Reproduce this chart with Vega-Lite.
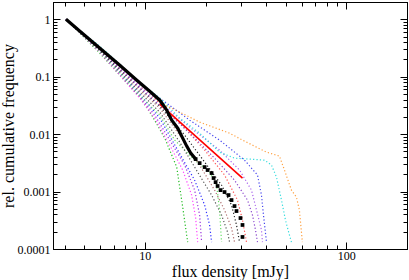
{
  "$schema": "https://vega.github.io/schema/vega-lite/v6.json",
  "width": 354,
  "height": 247,
  "autosize": "none",
  "padding": {"left": 53, "top": 2, "right": 2, "bottom": 31},
  "background": "white",
  "config": {
    "view": {"stroke": "black", "strokeWidth": 1},
    "font": "Liberation Serif",
    "axis": {
      "grid": false,
      "zindex": 1,
      "domainColor": "black",
      "domainWidth": 1,
      "tickColor": "black",
      "tickWidth": 1,
      "labelColor": "black",
      "titleColor": "black",
      "labelFont": "Liberation Serif",
      "titleFont": "Liberation Serif",
      "labelFontSize": 12,
      "titleFontSize": 16,
      "titleFontWeight": "normal"
    }
  },
  "datasets": {
    "obs": [
      {"flux": 4.06, "freq": 1},
      {"flux": 4.76, "freq": 0.618},
      {"flux": 5.98, "freq": 0.313},
      {"flux": 7.51, "freq": 0.1585},
      {"flux": 9.12, "freq": 0.0869},
      {"flux": 10.57, "freq": 0.0559},
      {"flux": 11.86, "freq": 0.039},
      {"flux": 12.26, "freq": 0.0332},
      {"flux": 12.84, "freq": 0.0261},
      {"flux": 13.59, "freq": 0.0175},
      {"flux": 14.55, "freq": 0.0127},
      {"flux": 15.41, "freq": 0.00852},
      {"flux": 16.13, "freq": 0.00619},
      {"flux": 16.88, "freq": 0.00467},
      {"flux": 17.87, "freq": 0.00367},
      {"flux": 18.7, "freq": 0.00313},
      {"flux": 19.8, "freq": 0.00267},
      {"flux": 20.48, "freq": 0.00237},
      {"flux": 21.44, "freq": 0.0021},
      {"flux": 21.93, "freq": 0.00172},
      {"flux": 22.44, "freq": 0.00146},
      {"flux": 22.96, "freq": 0.00125},
      {"flux": 23.75, "freq": 0.00106},
      {"flux": 24.86, "freq": 0.00098},
      {"flux": 26.02, "freq": 0.000869},
      {"flux": 26.92, "freq": 0.000711},
      {"flux": 27.86, "freq": 0.000559},
      {"flux": 28.5, "freq": 0.000458},
      {"flux": 29.83, "freq": 0.000346},
      {"flux": 30.52, "freq": 0.000262},
      {"flux": 30.52, "freq": 0.000162}
    ],
    "fit": [
      {"flux": 11.86, "freq": 0.0332},
      {"flux": 30.52, "freq": 0.00172}
    ],
    "sims": [
      {"run": "s01", "flux": 4.06, "freq": 1}, {"run": "s01", "flux": 5.98, "freq": 0.256}, {"run": "s01", "flux": 9.44, "freq": 0.044}, {"run": "s01", "flux": 10.82, "freq": 0.0214}, {"run": "s01", "flux": 12.55, "freq": 0.00852}, {"run": "s01", "flux": 14.39, "freq": 0.00267}, {"run": "s01", "flux": 15.41, "freq": 0.000537}, {"run": "s01", "flux": 16.31, "freq": 0.000132},
      {"run": "s02", "flux": 4.06, "freq": 1}, {"run": "s02", "flux": 5.98, "freq": 0.267}, {"run": "s02", "flux": 9.44, "freq": 0.0423}, {"run": "s02", "flux": 11.2, "freq": 0.019}, {"run": "s02", "flux": 13.29, "freq": 0.00644}, {"run": "s02", "flux": 15.41, "freq": 0.00237}, {"run": "s02", "flux": 17.07, "freq": 0.000869}, {"run": "s02", "flux": 17.87, "freq": 0.000346}, {"run": "s02", "flux": 18.28, "freq": 0.000132},
      {"run": "s03", "flux": 4.06, "freq": 1}, {"run": "s03", "flux": 5.98, "freq": 0.278}, {"run": "s03", "flux": 9.44, "freq": 0.0458}, {"run": "s03", "flux": 11.2, "freq": 0.0214}, {"run": "s03", "flux": 13.29, "freq": 0.00787}, {"run": "s03", "flux": 15.76, "freq": 0.00289}, {"run": "s03", "flux": 17.66, "freq": 0.00106}, {"run": "s03", "flux": 18.7, "freq": 0.00039}, {"run": "s03", "flux": 19.13, "freq": 0.000132},
      {"run": "s04", "flux": 4.06, "freq": 1}, {"run": "s04", "flux": 5.98, "freq": 0.289}, {"run": "s04", "flux": 9.44, "freq": 0.0496}, {"run": "s04", "flux": 11.86, "freq": 0.019}, {"run": "s04", "flux": 14.55, "freq": 0.00527}, {"run": "s04", "flux": 17.66, "freq": 0.00158}, {"run": "s04", "flux": 19.8, "freq": 0.000582}, {"run": "s04", "flux": 20.95, "freq": 0.000262}, {"run": "s04", "flux": 21.44, "freq": 0.000132},
      {"run": "s05", "flux": 4.06, "freq": 1}, {"run": "s05", "flux": 5.98, "freq": 0.278}, {"run": "s05", "flux": 9.44, "freq": 0.0477}, {"run": "s05", "flux": 11.86, "freq": 0.0214}, {"run": "s05", "flux": 14.06, "freq": 0.00787}, {"run": "s05", "flux": 17.66, "freq": 0.00353}, {"run": "s05", "flux": 20.95, "freq": 0.00218}, {"run": "s05", "flux": 22.7, "freq": 0.0013}, {"run": "s05", "flux": 23.49, "freq": 0.000477}, {"run": "s05", "flux": 24.02, "freq": 0.000132},
      {"run": "s06", "flux": 4.06, "freq": 1}, {"run": "s06", "flux": 5.98, "freq": 0.289}, {"run": "s06", "flux": 9.44, "freq": 0.0537}, {"run": "s06", "flux": 11.86, "freq": 0.0241}, {"run": "s06", "flux": 14.89, "freq": 0.00726}, {"run": "s06", "flux": 18.28, "freq": 0.00218}, {"run": "s06", "flux": 21.44, "freq": 0.000869}, {"run": "s06", "flux": 24.02, "freq": 0.00039}, {"run": "s06", "flux": 25.72, "freq": 0.000198}, {"run": "s06", "flux": 26.32, "freq": 0.000132},
      {"run": "s07", "flux": 4.06, "freq": 1}, {"run": "s07", "flux": 5.98, "freq": 0.301}, {"run": "s07", "flux": 9.44, "freq": 0.0582}, {"run": "s07", "flux": 11.86, "freq": 0.0283}, {"run": "s07", "flux": 14.89, "freq": 0.00961}, {"run": "s07", "flux": 18.7, "freq": 0.00289}, {"run": "s07", "flux": 22.19, "freq": 0.00106}, {"run": "s07", "flux": 24.86, "freq": 0.000477}, {"run": "s07", "flux": 26.92, "freq": 0.000232}, {"run": "s07", "flux": 27.86, "freq": 0.000132},
      {"run": "s08", "flux": 4.06, "freq": 1}, {"run": "s08", "flux": 5.98, "freq": 0.289}, {"run": "s08", "flux": 9.44, "freq": 0.0631}, {"run": "s08", "flux": 11.86, "freq": 0.0307}, {"run": "s08", "flux": 15.76, "freq": 0.00961}, {"run": "s08", "flux": 19.8, "freq": 0.00326}, {"run": "s08", "flux": 24.02, "freq": 0.0013}, {"run": "s08", "flux": 26.92, "freq": 0.000582}, {"run": "s08", "flux": 28.5, "freq": 0.000262}, {"run": "s08", "flux": 29.5, "freq": 0.000132},
      {"run": "s09", "flux": 4.06, "freq": 1}, {"run": "s09", "flux": 5.98, "freq": 0.301}, {"run": "s09", "flux": 9.44, "freq": 0.0684}, {"run": "s09", "flux": 11.86, "freq": 0.0346}, {"run": "s09", "flux": 15.76, "freq": 0.0127}, {"run": "s09", "flux": 19.8, "freq": 0.00527}, {"run": "s09", "flux": 24.86, "freq": 0.00194}, {"run": "s09", "flux": 28.83, "freq": 0.000711}, {"run": "s09", "flux": 30.52, "freq": 0.000319}, {"run": "s09", "flux": 31.95, "freq": 0.000132},
      {"run": "s10", "flux": 4.06, "freq": 1}, {"run": "s10", "flux": 5.98, "freq": 0.301}, {"run": "s10", "flux": 9.44, "freq": 0.0631}, {"run": "s10", "flux": 11.86, "freq": 0.0319}, {"run": "s10", "flux": 16.69, "freq": 0.0104}, {"run": "s10", "flux": 22.19, "freq": 0.00382}, {"run": "s10", "flux": 27.86, "freq": 0.00158}, {"run": "s10", "flux": 32.32, "freq": 0.000711}, {"run": "s10", "flux": 34.21, "freq": 0.00039}, {"run": "s10", "flux": 35.41, "freq": 0.000214}, {"run": "s10", "flux": 36.23, "freq": 0.000132},
      {"run": "s11", "flux": 4.06, "freq": 1}, {"run": "s11", "flux": 5.98, "freq": 0.313}, {"run": "s11", "flux": 9.44, "freq": 0.0684}, {"run": "s11", "flux": 11.86, "freq": 0.036}, {"run": "s11", "flux": 16.69, "freq": 0.0132}, {"run": "s11", "flux": 23.49, "freq": 0.00527}, {"run": "s11", "flux": 29.5, "freq": 0.00237}, {"run": "s11", "flux": 33.82, "freq": 0.00106}, {"run": "s11", "flux": 35.82, "freq": 0.000477}, {"run": "s11", "flux": 37.91, "freq": 0.000214}, {"run": "s11", "flux": 38.35, "freq": 0.000132},
      {"run": "s12", "flux": 4.06, "freq": 1}, {"run": "s12", "flux": 5.98, "freq": 0.326}, {"run": "s12", "flux": 9.44, "freq": 0.0741}, {"run": "s12", "flux": 11.86, "freq": 0.0423}, {"run": "s12", "flux": 16.69, "freq": 0.0175}, {"run": "s12", "flux": 23.49, "freq": 0.00787}, {"run": "s12", "flux": 31.23, "freq": 0.00353}, {"run": "s12", "flux": 36.23, "freq": 0.00194}, {"run": "s12", "flux": 37.91, "freq": 0.000869}, {"run": "s12", "flux": 38.79, "freq": 0.00039}, {"run": "s12", "flux": 40.15, "freq": 0.000132},
      {"run": "s13", "flux": 4.06, "freq": 1}, {"run": "s13", "flux": 5.98, "freq": 0.339}, {"run": "s13", "flux": 9.44, "freq": 0.0802}, {"run": "s13", "flux": 11.86, "freq": 0.0423}, {"run": "s13", "flux": 14.89, "freq": 0.019}, {"run": "s13", "flux": 18.7, "freq": 0.0104}, {"run": "s13", "flux": 23.49, "freq": 0.00486}, {"run": "s13", "flux": 27.86, "freq": 0.00382}, {"run": "s13", "flux": 39.24, "freq": 0.00353}, {"run": "s13", "flux": 42.5, "freq": 0.00289}, {"run": "s13", "flux": 44.99, "freq": 0.00179}, {"run": "s13", "flux": 47.64, "freq": 0.000711}, {"run": "s13", "flux": 49.86, "freq": 0.000319}, {"run": "s13", "flux": 52.19, "freq": 0.000175}, {"run": "s13", "flux": 53.39, "freq": 0.000132},
      {"run": "s14", "flux": 4.06, "freq": 1}, {"run": "s14", "flux": 5.98, "freq": 0.326}, {"run": "s14", "flux": 9.44, "freq": 0.0802}, {"run": "s14", "flux": 10.57, "freq": 0.0537}, {"run": "s14", "flux": 12.12, "freq": 0.0332}, {"run": "s14", "flux": 13.59, "freq": 0.0283}, {"run": "s14", "flux": 18.7, "freq": 0.0162}, {"run": "s14", "flux": 26.32, "freq": 0.0104}, {"run": "s14", "flux": 30.52, "freq": 0.00787}, {"run": "s14", "flux": 40.15, "freq": 0.00486}, {"run": "s14", "flux": 46.56, "freq": 0.00414}, {"run": "s14", "flux": 49.29, "freq": 0.00237}, {"run": "s14", "flux": 53.39, "freq": 0.00106}, {"run": "s14", "flux": 56.51, "freq": 0.000802}, {"run": "s14", "flux": 58.47, "freq": 0.000477}, {"run": "s14", "flux": 60.5, "freq": 0.000132}
    ]
  },
  "resolve": {"axis": {"x": "independent", "y": "independent"}},
  "layer": [
    {
      "data": {"name": "sims"},
      "mark": {"type": "line", "strokeWidth": 1.2, "strokeDash": [1.2, 2.2], "clip": true},
      "encoding": {
        "x": {
          "field": "flux", "type": "quantitative",
          "scale": {"type": "log", "domain": [3.5, 200], "nice": false},
          "axis": {
            "orient": "bottom",
            "title": "flux density [mJy]",
            "values": [4, 5, 6, 7, 8, 9, 10, 20, 30, 40, 50, 60, 70, 80, 90, 100, 200],
            "labelExpr": "datum.value == 10 || datum.value == 100 ? format(datum.value, 'd') : ''",
            "tickSize": {"condition": {"test": "datum.value == 10 || datum.value == 100", "value": -7}, "value": -4},
            "labelPadding": 8,
            "titlePadding": -1,
            "labelFlush": false,
            "labelOverlap": false
          }
        },
        "y": {
          "field": "freq", "type": "quantitative",
          "scale": {"type": "log", "domain": [0.0001, 2], "nice": false},
          "axis": {
            "orient": "left",
            "title": "rel. cumulative frequency",
            "values": [0.0001, 0.0002, 0.0003, 0.0004, 0.0005, 0.0006, 0.0007, 0.0008, 0.0009, 0.001, 0.002, 0.003, 0.004, 0.005, 0.006, 0.007, 0.008, 0.009, 0.01, 0.02, 0.03, 0.04, 0.05, 0.06, 0.07, 0.08, 0.09, 0.1, 0.2, 0.3, 0.4, 0.5, 0.6, 0.7, 0.8, 0.9, 1, 2],
            "labelExpr": "datum.value == 1 || datum.value == 0.1 || datum.value == 0.01 || datum.value == 0.001 || datum.value == 0.0001 ? format(datum.value, '~g') : ''",
            "tickSize": {"condition": {"test": "datum.value == 1 || datum.value == 0.1 || datum.value == 0.01 || datum.value == 0.001 || datum.value == 0.0001", "value": -7}, "value": -4},
            "labelPadding": 10,
            "titlePadding": 1,
            "labelFlush": false,
            "labelOverlap": false
          }
        },
        "color": {
          "field": "run", "type": "nominal", "legend": null,
          "scale": {
            "domain": ["s01", "s02", "s03", "s04", "s05", "s06", "s07", "s08", "s09", "s10", "s11", "s12", "s13", "s14"],
            "range": ["#22bb22", "#ff44ff", "#9933dd", "#3333ff", "#66dd66", "#555555", "#b07070", "#222222", "#ff5555", "#8844cc", "#aa66ee", "#4444ee", "#33dddd", "#ffa040"]
          }
        }
      }
    },
    {
      "data": {"name": "fit"},
      "mark": {"type": "line", "color": "#ff0000", "strokeWidth": 1.6},
      "encoding": {
        "x": {
          "field": "flux", "type": "quantitative",
          "axis": {
            "orient": "top", "title": null, "labels": false,
            "values": [4, 5, 6, 7, 8, 9, 10, 20, 30, 40, 50, 60, 70, 80, 90, 100, 200],
            "tickSize": {"condition": {"test": "datum.value == 10 || datum.value == 100", "value": -7}, "value": -4}
          }
        },
        "y": {
          "field": "freq", "type": "quantitative",
          "axis": {
            "orient": "right", "title": null, "labels": false,
            "values": [0.0001, 0.0002, 0.0003, 0.0004, 0.0005, 0.0006, 0.0007, 0.0008, 0.0009, 0.001, 0.002, 0.003, 0.004, 0.005, 0.006, 0.007, 0.008, 0.009, 0.01, 0.02, 0.03, 0.04, 0.05, 0.06, 0.07, 0.08, 0.09, 0.1, 0.2, 0.3, 0.4, 0.5, 0.6, 0.7, 0.8, 0.9, 1, 2],
            "tickSize": {"condition": {"test": "datum.value == 1 || datum.value == 0.1 || datum.value == 0.01 || datum.value == 0.001 || datum.value == 0.0001", "value": -7}, "value": -4}
          }
        }
      }
    },
    {
      "data": {"name": "obs"},
      "transform": [{"filter": "datum.freq >= 0.0035"}],
      "mark": {"type": "line", "color": "black", "strokeWidth": 3.2},
      "encoding": {
        "x": {"field": "flux", "type": "quantitative", "axis": null},
        "y": {"field": "freq", "type": "quantitative", "axis": null}
      }
    },
    {
      "data": {"name": "obs"},
      "transform": [{"filter": "datum.freq < 0.004"}],
      "mark": {"type": "square", "color": "black", "filled": true, "opacity": 1, "size": 14},
      "encoding": {
        "x": {"field": "flux", "type": "quantitative", "axis": null},
        "y": {"field": "freq", "type": "quantitative", "axis": null}
      }
    }
  ]
}
